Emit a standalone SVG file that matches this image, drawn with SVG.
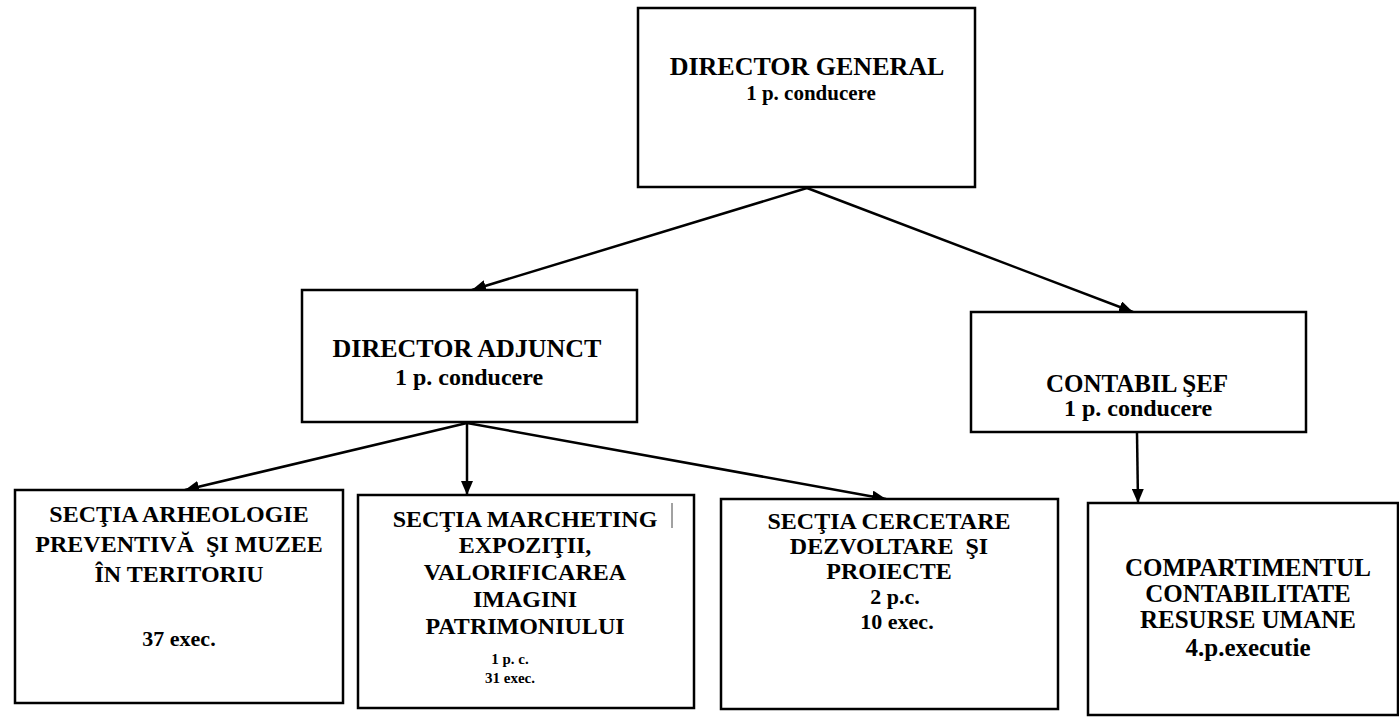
<svg xmlns="http://www.w3.org/2000/svg" width="1399" height="718" viewBox="0 0 1399 718">
<style>
.box{fill:#fff;stroke:#000;stroke-width:2.5}
.t{font-family:"Liberation Serif","Times New Roman",serif;font-weight:bold;fill:#000;text-anchor:middle}
.c{stroke:#000;stroke-width:2.5;fill:none;marker-end:url(#ah)}
</style>
<defs>
<marker id="ah" markerUnits="userSpaceOnUse" markerWidth="14" markerHeight="12" refX="14" refY="6" orient="auto"><path d="M0,0 L14,6 L0,12 z" fill="#000"/></marker>
</defs>
<rect width="1399" height="718" fill="#fff"/>
<g id="connectors">
<path class="c" d="M807,188 L472,290"/>
<path class="c" d="M807,188 L1133,312"/>
<path class="c" d="M467,423 L185,490"/>
<path class="c" d="M467,423 L467,495"/>
<path class="c" d="M467,423 L886,499"/>
<path class="c" d="M1137,433 L1138,503"/>
</g>
<g id="director-general">
<rect class="box" x="638" y="8" width="337" height="179"/>
<text class="t" x="807" y="75" font-size="26">DIRECTOR GENERAL</text>
<text class="t" x="811" y="100" font-size="21">1 p. conducere</text>
</g>
<g id="director-adjunct">
<rect class="box" x="302" y="290" width="335" height="132"/>
<text class="t" x="467" y="357" font-size="26">DIRECTOR ADJUNCT</text>
<text class="t" x="469" y="385" font-size="24">1 p. conducere</text>
</g>
<g id="contabil-sef">
<rect class="box" x="971" y="312" width="335" height="120"/>
<text class="t" x="1137" y="392" font-size="25">CONTABIL ŞEF</text>
<text class="t" x="1138" y="416" font-size="24">1 p. conducere</text>
</g>
<g id="sectia-arheologie">
<rect class="box" x="15" y="490" width="328" height="213"/>
<text class="t" x="179" y="522" font-size="24">SECŢIA ARHEOLOGIE</text>
<text class="t" x="179" y="552" font-size="24" xml:space="preserve">PREVENTIVĂ  ŞI MUZEE</text>
<text class="t" x="179" y="582" font-size="24">ÎN TERITORIU</text>
<text class="t" x="179" y="646" font-size="22">37 exec.</text>
</g>
<g id="sectia-marcheting">
<rect class="box" x="358" y="495" width="336" height="213"/>
<line x1="672" y1="503" x2="672" y2="528" stroke="#444" stroke-width="1"/>
<text class="t" x="525" y="527" font-size="24">SECŢIA MARCHETING</text>
<text class="t" x="525" y="553" font-size="24">EXPOZIŢII,</text>
<text class="t" x="525" y="580" font-size="24">VALORIFICAREA</text>
<text class="t" x="525" y="607" font-size="24">IMAGINI</text>
<text class="t" x="525" y="634" font-size="24">PATRIMONIULUI</text>
<text class="t" x="510" y="664" font-size="15">1 p. c.</text>
<text class="t" x="510" y="683" font-size="15">31 exec.</text>
</g>
<g id="sectia-cercetare">
<rect class="box" x="721" y="499" width="337" height="210"/>
<text class="t" x="889" y="529" font-size="24">SECŢIA CERCETARE</text>
<text class="t" x="889" y="554" font-size="24" xml:space="preserve">DEZVOLTARE  ŞI</text>
<text class="t" x="889" y="579" font-size="24">PROIECTE</text>
<text class="t" x="895" y="604" font-size="22">2 p.c.</text>
<text class="t" x="897" y="629" font-size="22">10 exec.</text>
</g>
<g id="compartimentul">
<rect class="box" x="1088" y="503" width="310" height="212"/>
<text class="t" x="1248" y="576" font-size="25">COMPARTIMENTUL</text>
<text class="t" x="1248" y="602" font-size="25">CONTABILITATE</text>
<text class="t" x="1248" y="628" font-size="25">RESURSE UMANE</text>
<text class="t" x="1248" y="656" font-size="25">4.p.executie</text>
</g>
</svg>
